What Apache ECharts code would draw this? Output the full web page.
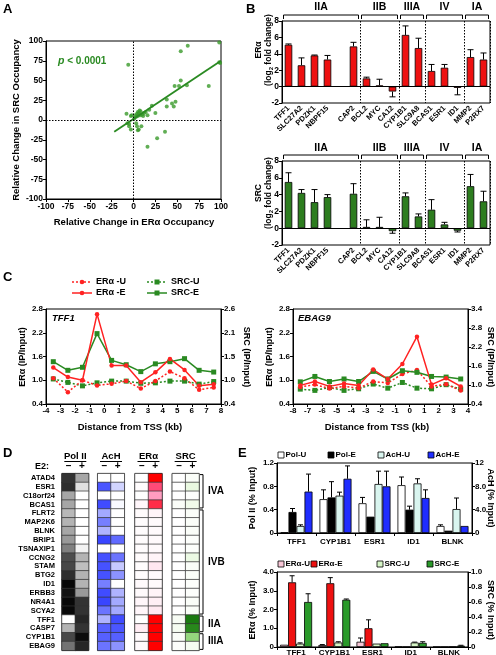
<!DOCTYPE html>
<html><head><meta charset="utf-8">
<script src="https://cdn.jsdelivr.net/npm/echarts@6/dist/echarts.min.js"></script>
<style>html,body{margin:0;padding:0;background:#fff}#c{width:496px;height:655px}</style>
</head><body><div id="c"></div>
<script>
// ================= DATA =================
// Panel A: relative change in ERα (x) vs SRC (y) occupancy
const aX = [-6,54,62,98,98,99,54,47,52,61,86,38,38,44,46,48,21,18,25,16,11,2,4,5,6,7,8,5,3,8,10,12,6,-8,-3,-2,-5,-5,-3,-7,3,4,5,6,9,36,27,16,14,1];
const aY = [70,87,94,98,73,72,50,43,43,44,43,26,17,21,17,23,18,13,9,6,5,6,8,10,9,12,11,5,4,6,7,9,7,8,5,6,-5,-8,-12,-4,-4,-8,-13,-12,-8,-15,-23,-34,10,2];
const aFitX = [-22, 100];
const aFitY = [-15, 75];
const aTicks = [-100, 100, 25];

// Panel B: log2 fold change
const bGenes = ['TFF1','SLC27A2','PDZK1','NBPF15','CAP2','BCL2','MYC','CA12','CYP1B1','SLC9A8','BCAS1','ESR1','ID1','MMP2','P2RX7'];
const bEr     = [5.1,2.6,3.8,3.3,4.9,1.0,0.15,-0.6,6.3,4.7,1.9,2.3,-0.15,3.6,3.3];
const bErSem  = [0.1,0.9,0.05,0.5,0.5,0.15,0.75,0.65,1.1,1.2,0.8,0.4,0.85,0.9,0.8];
const bSrc    = [5.5,4.2,3.1,3.7,4.1,0.15,0.15,-0.35,3.8,1.4,2.2,0.45,-0.3,5.0,3.2];
const bSrcSem = [1.1,0.4,1.5,0.3,1.2,0.85,1.15,0.25,0.4,0.3,1.2,0.25,0.15,1.4,1.2];
const bGroups = ['IIA','IIB','IIIA','IV','IA'];
const bGroupSize = [5,3,2,3,2];

// Panel C: ChIP scanning (IP/Input)
const cTffX    = [-3.5,-2.5,-1.5,-0.5,0.5,1.5,2.5,3.5,4.5,5.5,6.5,7.5];
const cTffErU  = [1.05,0.70,1.00,0.87,0.91,0.98,0.79,0.98,1.22,1.05,0.76,0.82];
const cTffErE  = [1.32,1.08,1.00,2.67,1.37,1.37,0.95,1.20,1.54,1.26,0.86,0.90];
const cTffSrcU = [0.98,0.90,0.82,0.89,0.93,0.93,0.88,0.89,0.93,0.93,0.86,0.92];
const cTffSrcE = [1.38,1.18,1.25,2.03,1.41,1.31,1.15,1.33,1.38,1.45,1.18,1.14];
const cEbX     = [-7.5,-6.5,-5.5,-4.5,-3.5,-2.5,-1.5,-0.5,0.5,1.5,2.5,3.5];
const cEbErU   = [0.83,0.89,0.79,0.845,0.80,0.97,0.93,1.16,1.26,0.845,0.90,0.74];
const cEbErE   = [0.87,0.97,0.845,0.92,0.87,1.27,1.03,1.41,2.10,0.89,1.05,0.845];
const cEbSrcU  = [0.87,0.83,0.92,0.83,0.88,1.03,0.90,1.08,0.90,0.88,1.01,0.87];
const cEbSrcE  = [1.10,1.27,1.11,1.19,1.11,1.43,1.19,1.45,1.40,1.27,1.25,1.19];
const cLeftTicks  = [0.4,1.0,1.6,2.2,2.8];
const cTffRight   = [0.4,0.95,1.5,2.05,2.6];
const cEbRight    = [0.4,1.0,1.6,2.2,2.8,3.4];

// Panel D: heat map intensities (0 = white, 1 = full colour)
const dGenes = ['ATAD4','ESR1','C18orf24','BCAS1','FLRT2','MAP2K6','BLNK','BRIP1','TSNAXIP1','CCNG2','STAM','BTG2','ID1','ERBB3','NR4A1','SCYA2','TFF1','CASP7','CYP1B1','EBAG9'];
const dPolU = [0.8,0.82,0.35,0.35,0.28,0.3,0.35,0.4,0.5,0.7,0.72,0.82,0.97,0.93,0.97,0.97,0,0.3,0.72,0.55];
const dPolE = [0.35,0.12,0,0,0,0,0,0,0.05,0.3,0.25,0.3,0.3,0.4,0.8,0.8,0.85,0.8,0.95,0.85];
const dAchU = [0,0.8,0,0.85,0.4,0.6,0.35,0.88,0,0.82,0.82,0.82,0.6,0.85,0.88,0.65,0.35,0.75,0.75,0.65];
const dAchE = [0,0.2,0,0.03,0,0,0,0.7,0,0.65,0.25,0.5,0,0.35,0.4,0.4,0.85,0.8,0.75,0.5];
const dErU  = [0,0.03,0,0.08,0.04,0.03,0.03,0.03,0.03,0.04,0.03,0.03,0.05,0.05,0.08,0.08,0,0.18,0.05,0.05];
const dErE  = [1.0,0.75,0.5,0.85,0.1,0.05,0.05,0.05,0.05,0.1,0.22,0.05,0.05,0.1,0.15,0.2,1.0,1.0,1.0,1.0];
const dSrcU = [0,0,0,0.05,0,0,0,0,0,0,0,0,0,0,0,0,0.08,0.1,0.05,0.03];
const dSrcE = [0.05,0.22,0.02,0.15,0.05,0.05,0.05,0.03,0.03,0.2,0.05,0.05,0.03,0.03,0.05,0.05,1.0,0.95,0.6,0.1];
const dE2 = ['–','+'];
const dClasses = [['IVA',0,3],['IVB',4,15],['IIA',16,17],['IIIA',18,19]];

// Panel E: ChIP (% input)
const eGenes = ['TFF1','CYP1B1','ESR1','ID1','BLNK'];
const ePolU = [0.01,0.58,0.51,0.82,0.12], ePolUSem = [0,0.16,0.10,0.14,0.02];
const ePolE = [0.36,0.61,0.28,0.40,0.04], ePolESem = [0.06,0.27,0,0.06,0];
const eAchU = [1.2,6.4,8.4,8.5,4.1],      eAchUSem = [0.2,0.6,2.2,0.8,1.9];
const eAchE = [7.1,9.3,8.0,6.0,1.2],      eAchESem = [3.0,2.2,2.6,1.4,0];
const eErU  = [0.12,0.10,0.28,0.02,0.01], eErUSem  = [0,0.03,0.2,0,0];
const eErE  = [3.45,3.4,1.0,0.01,0.01],   eErESem  = [0.35,0.3,0.45,0,0];
const eSrcU = [0.045,0.06,0.045,0.06,0.005], eSrcUSem = [0.01,0.01,0,0.005,0];
const eSrcE = [0.6,0.63,0.05,0.055,0.018],  eSrcESem = [0.11,0.01,0,0.015,0.005];

// ================= LAYOUT / STYLE =================
const F = '"Liberation Sans", Arial, sans-serif';
const RED = '#ee1111', GREEN_B = '#2d7d1f', GREEN_L = '#2a8a22';
const GA  = {left:46, top:41, width:175, height:158};
const GB1 = {left:282, top:21, width:208, height:82};
const GB2 = {left:282, top:161, width:208, height:84};
const GC1 = {left:46, top:309, width:175, height:95};
const GC2 = {left:293, top:309, width:175, height:95};
const GDtop = 473.6, GDh = 176.8;
const GD  = [{left:62,width:26.6},{left:97.7,width:26.6},{left:135,width:27},{left:172.3,width:26.7}];
const GE1 = {left:277, top:463, width:195, height:70};
const GE2 = {left:277, top:572, width:191, height:75};

const chart = echarts.init(document.getElementById('c'), null, {renderer:'canvas', width:496, height:655});

function grid(g, border) {
  return {left:g.left, top:g.top, width:g.width, height:g.height, show:!!border,
    borderColor:'#000', borderWidth:1, backgroundColor:'transparent', containLabel:false, outerBoundsMode:'none'};
}
function lbl(extra) { return Object.assign({color:'#000', fontSize:8, fontWeight:'bold', fontFamily:F, margin:3}, extra||{}); }
function vAxis(gi, o) {
  return Object.assign({type:'value', gridIndex:gi, scale:false,
    axisLine:{show:true, onZero:false, lineStyle:{color:'#000', width:1}},
    axisTick:{show:true, length:3, lineStyle:{color:'#000'}},
    splitLine:{show:false}, axisLabel:lbl()}, o);
}
const dec1 = v => v === 0 ? '0' : (v + 1e-9).toFixed(1);

// B slot layout: IIA has an extra empty slot
const bCats = [...bGenes.slice(0,4), ' ', ...bGenes.slice(4)];
const bBounds = []; { let s = 0; bGroupSize.forEach((n,i)=>{ s += n + (i===0?1:0); bBounds.push(s); }); }
const bSlots = bCats.length;

const grids = [
  grid(GA,true), grid(GB1,true), grid(GB2,true), grid(GC1,true), grid(GC2,true),
  ...GD.map(g=>grid({left:g.left, top:GDtop, width:g.width, height:GDh}, true)),
  grid(GE1,true), grid(GE2,true)
];

const bXAxis = gi => ({type:'category', gridIndex:gi, data:bCats, boundaryGap:true,
  axisLine:{show:false}, axisTick:{show:false},
  axisLabel:lbl({rotate:45, interval:0, fontSize:7.5, margin:4}),
  splitLine:{show:true, interval:(idx)=>bBounds.slice(0,-1).includes(idx), lineStyle:{color:'#000', type:[1.5,1.5], width:1}}});

const eXAxis = gi => ({type:'category', gridIndex:gi, data:eGenes,
  axisLine:{show:true,lineStyle:{color:'#000'}}, axisTick:{show:true,length:3,lineStyle:{color:'#000'}},
  axisLabel:lbl({fontSize:8, margin:gi===10?2:5, interval:0})});

const xAxes = [
  vAxis(0, {min:aTicks[0], max:aTicks[1], interval:aTicks[2], axisLabel:lbl({fontSize:8.5})}),
  bXAxis(1), bXAxis(2),
  vAxis(3, {min:-4, max:8, interval:1}),
  vAxis(4, {min:-8, max:4, interval:1}),
  ...GD.map((g,i)=>({type:'category', gridIndex:5+i, data:dE2, position:'top',
    axisLine:{show:false}, axisTick:{show:false}, axisLabel:lbl({fontSize:10, margin:2})})),
  eXAxis(9), eXAxis(10)
];

const yAxes = [
  vAxis(0, {min:aTicks[0], max:aTicks[1], interval:aTicks[2], axisLabel:lbl({fontSize:8.5})}),
  vAxis(1, {min:-2, max:8, interval:2, axisLabel:lbl({fontSize:8.5})}),
  vAxis(2, {min:-2, max:8, interval:2, axisLabel:lbl({fontSize:8.5})}),
  vAxis(3, {min:0.4, max:2.8, axisLabel:lbl({customValues:cLeftTicks, formatter:dec1}), axisTick:{show:true,length:3,customValues:cLeftTicks,lineStyle:{color:'#000'}}}),
  vAxis(3, {min:0.4, max:2.6, position:'right', axisLabel:lbl({customValues:cTffRight, formatter:dec1}), axisTick:{show:true,length:3,customValues:cTffRight,lineStyle:{color:'#000'}}}),
  vAxis(4, {min:0.4, max:2.8, axisLabel:lbl({customValues:cLeftTicks, formatter:dec1}), axisTick:{show:true,length:3,customValues:cLeftTicks,lineStyle:{color:'#000'}}}),
  vAxis(4, {min:0.4, max:3.4, position:'right', axisLabel:lbl({customValues:cEbRight, formatter:dec1}), axisTick:{show:true,length:3,customValues:cEbRight,lineStyle:{color:'#000'}}}),
  ...GD.map((g,i)=>({type:'category', gridIndex:5+i, data:dGenes, inverse:true,
    axisLine:{show:false}, axisTick:{show:false}, axisLabel:lbl({show:i===0, fontSize:7.5, margin:7, interval:0})})),
  vAxis(9, {min:0, max:1.2, interval:0.4, axisLabel:lbl({formatter:dec1})}),
  vAxis(9, {min:0, max:12, interval:4, position:'right', axisLabel:lbl({formatter:v=>v===12?'12':dec1(v)})}),
  vAxis(10, {min:0, max:4, interval:1, axisLabel:lbl({formatter:dec1})}),
  vAxis(10, {min:0, max:1, interval:0.2, position:'right', axisLabel:lbl({formatter:dec1})})
];

function errSeries(xi, yi, cats, vals, sems, offset, cap) {
  return {type:'custom', xAxisIndex:xi, yAxisIndex:yi, z:1, silent:true,
    data: cats.map((c,i)=>[i, vals[i], sems[i]]),
    renderItem:(params, api)=>{
      const v = api.value(1), s = api.value(2);
      if (!s) return null;
      const end = v >= 0 ? v + s : v - s;
      const p0 = api.coord([api.value(0), v]);
      const p1 = api.coord([api.value(0), end]);
      const x = p0[0] + offset;
      return {type:'group', children:[
        {type:'line', shape:{x1:x,y1:p0[1],x2:x,y2:p1[1]}, style:{stroke:'#000', lineWidth:1}},
        {type:'line', shape:{x1:x-cap,y1:p1[1],x2:x+cap,y2:p1[1]}, style:{stroke:'#000', lineWidth:1}}
      ]};
    }};
}
function bErrSeries(xi, yi, vals, sems) {
  return {type:'custom', xAxisIndex:xi, yAxisIndex:yi, z:1, silent:true,
    data: bGenes.map((g,i)=>[g, vals[i], sems[i]]),
    renderItem:(params, api)=>{
      const v = api.value(1), s = api.value(2);
      const end = v >= 0 ? v + s : v - s;
      const p0 = api.coord([api.value(0), v]);
      const p1 = api.coord([api.value(0), end]);
      const x = p0[0];
      return {type:'group', children:[
        {type:'line', shape:{x1:x,y1:p0[1],x2:x,y2:p1[1]}, style:{stroke:'#000', lineWidth:1}},
        {type:'line', shape:{x1:x-3,y1:p1[1],x2:x+3,y2:p1[1]}, style:{stroke:'#000', lineWidth:1}}
      ]};
    }};
}

const series = [];
// A
series.push({type:'scatter', xAxisIndex:0, yAxisIndex:0, symbolSize:4, itemStyle:{color:'#3a9a2a'},
  data: aX.map((x,i)=>[x, aY[i]]),
  markLine:{silent:true, symbol:'none', label:{show:false}, lineStyle:{color:'#000', type:[1.5,1.5], width:1},
    data:[{xAxis:0},{yAxis:0}]}});
series.push({type:'line', xAxisIndex:0, yAxisIndex:0, symbol:'none', lineStyle:{color:GREEN_L, width:1.8},
  data: aFitX.map((x,i)=>[x, aFitY[i]])});

// B
function bBars(xi, yi, vals, color) {
  return {type:'bar', xAxisIndex:xi, yAxisIndex:yi, barWidth:7.5, z:2,
    itemStyle:{color, borderColor:'#000', borderWidth:0.8},
    data: bGenes.map((g,i)=>[g, vals[i]]),
    markLine:{silent:true, symbol:'none', label:{show:false}, lineStyle:{color:'#000', type:'solid', width:1}, data:[{yAxis:0}]}};
}
series.push(bBars(1,1,bEr,RED), bErrSeries(1,1,bEr,bErSem));
series.push(bBars(2,2,bSrc,GREEN_B), bErrSeries(2,2,bSrc,bSrcSem));

// C
function cLine(xi, yi, xs, ys, color, dotted, sym) {
  return {type:'line', xAxisIndex:xi, yAxisIndex:yi, symbol:sym, symbolSize: sym==='rect'?5:4.5,
    itemStyle:{color}, lineStyle:{color, width:1.5, type: dotted ? [2,2] : 'solid'},
    data: xs.map((x,i)=>[x, ys[i]])};
}
series.push(cLine(3,4,cTffX,cTffSrcU,GREEN_L,true,'rect'), cLine(3,3,cTffX,cTffErU,'#ff2222',true,'circle'),
            cLine(3,4,cTffX,cTffSrcE,GREEN_L,false,'rect'), cLine(3,3,cTffX,cTffErE,'#ff2222',false,'circle'));
series.push(cLine(4,6,cEbX,cEbSrcU,GREEN_L,true,'rect'), cLine(4,5,cEbX,cEbErU,'#ff2222',true,'circle'),
            cLine(4,6,cEbX,cEbSrcE,GREEN_L,false,'rect'), cLine(4,5,cEbX,cEbErE,'#ff2222',false,'circle'));

// D heat maps
const dSets = [[dPolU,dPolE],[dAchU,dAchE],[dErU,dErE],[dSrcU,dSrcE]];
const dColors = [
  ['#ffffff','#000000'],
  ['#ffffff','#8c93ff','#1f2dff'],
  ['#ffffff','#ffe4ee','#ff9cc0','#ff4a78','#ff0000'],
  ['#ffffff','#e6f7dc','#b6e6a0','#60c048','#1a7a10']
];
const visualMaps = [];
dSets.forEach((pair, k)=>{
  const data = [];
  pair.forEach((arr, xi)=>arr.forEach((v, yi)=>data.push([xi, yi, v])));
  visualMaps.push({type:'continuous', show:false, min:0, max:1, dimension:2, seriesIndex:series.length, inRange:{color:dColors[k]}});
  series.push({type:'heatmap', xAxisIndex:5+k, yAxisIndex:7+k, data, silent:true,
    itemStyle:{borderColor:'#333', borderWidth:0.7}, emphasis:{disabled:true}});
});

// E
const EBW = 8;
function eBar(yi, vals, color) {
  return {type:'bar', xAxisIndex: yi<13 ? 9 : 10, yAxisIndex:yi, barWidth:EBW, barGap:'0%', z:2,
    itemStyle:{color, borderColor:'#000', borderWidth:0.8}, data: vals.slice()};
}
series.push(eBar(11,ePolU,'#ffffff'), eBar(11,ePolE,'#000000'), eBar(12,eAchU,'#d9f5ef'), eBar(12,eAchE,'#1f2dff'));
series.push(errSeries(9,11,eGenes,ePolU,ePolUSem,-1.5*EBW,2.5), errSeries(9,11,eGenes,ePolE,ePolESem,-0.5*EBW,2.5),
            errSeries(9,12,eGenes,eAchU,eAchUSem,0.5*EBW,2.5), errSeries(9,12,eGenes,eAchE,eAchESem,1.5*EBW,2.5));
series.push(eBar(13,eErU,'#f7c6d6'), eBar(13,eErE,RED), eBar(14,eSrcU,'#d6f5c6'), eBar(14,eSrcE,'#2a9a2a'));
series.push(errSeries(10,13,eGenes,eErU,eErUSem,-1.5*EBW,2.5), errSeries(10,13,eGenes,eErE,eErESem,-0.5*EBW,2.5),
            errSeries(10,14,eGenes,eSrcU,eSrcUSem,0.5*EBW,2.5), errSeries(10,14,eGenes,eSrcE,eSrcESem,1.5*EBW,2.5));

// ================= ANNOTATIONS =================
const G = [];
function T(x, y, text, o) {
  o = o || {};
  const font = `${o.italic?'italic ':''}${o.weight||'bold'} ${o.size||9}px ${F}`;
  G.push({type:'text', x, y, rotation:o.rot||0, silent:true, z:100,
    style:{text, x:0, y:0, fill:o.color||'#000', font, align:o.align||'center', verticalAlign:o.va||'middle',
      textAlign:o.align||'center', textVerticalAlign:o.va||'middle', rich:o.rich}});
}
function L(x1,y1,x2,y2,o) {
  o = o || {};
  G.push({type:'line', silent:true, z:100, shape:{x1,y1,x2,y2},
    style:{stroke:o.color||'#000', lineWidth:o.w||1, lineDash:o.dash||null}});
}
function Rc(x,y,w,h,fill) {
  G.push({type:'rect', silent:true, z:100, shape:{x,y,width:w,height:h}, style:{fill, stroke:'#000', lineWidth:0.8}});
}
function Sym(x,y,kind,color) {
  if (kind==='rect') G.push({type:'rect', silent:true, z:101, shape:{x:x-2.5,y:y-2.5,width:5,height:5}, style:{fill:color}});
  else G.push({type:'circle', silent:true, z:101, shape:{cx:x,cy:y,r:2.3}, style:{fill:color}});
}
const P = Math.PI/2;

// panel letters
T(3,9,'A',{size:13,align:'left'}); T(246,9,'B',{size:13,align:'left'});
T(3,277,'C',{size:13,align:'left'}); T(3,453,'D',{size:13,align:'left'}); T(238,453,'E',{size:13,align:'left'});

// A
T(16,120,'Relative Change in SRC Occupancy',{rot:P,size:9.5});
T(134,222,'Relative Change in ERα Occupancy',{size:9.5});
T(58,61,'{i|p}{n| < 0.0001}',{align:'left', color:GREEN_L, size:10,
  rich:{i:{fontStyle:'italic', fontWeight:'bold', fontSize:10.5, fontFamily:F, fill:GREEN_L, color:GREEN_L},
        n:{fontWeight:'bold', fontSize:10, fontFamily:F, fill:GREEN_L, color:GREEN_L}}});

// B: group labels & brackets
[[GB1, 7, 15],[GB2, 148, 155]].forEach(([g, ty, by])=>{
  const sw = g.width / bSlots;
  let s0 = 0;
  bGroups.forEach((name, i)=>{
    const s1 = bBounds[i];
    const x1 = g.left + s0*sw + 1.5, x2 = g.left + s1*sw - 1.5;
    L(x1,by,x2,by); L(x1,by,x1,by+4); L(x2,by,x2,by+4);
    T((x1+x2)/2, ty, name, {size:10.5});
    s0 = s1;
  });
});
const logRich = {a:{fontWeight:'bold', fontSize:8.5, fontFamily:F}, s:{fontWeight:'bold', fontSize:6, fontFamily:F, padding:[5,0,0,0]}};
T(259,50,'ERα',{rot:P,size:8.5}); T(268.5,50,'{a|(log}{s|2}{a| fold change)}',{rot:P,size:8.5,rich:logRich});
T(259,193,'SRC',{rot:P,size:8.5}); T(268.5,193,'{a|(log}{s|2}{a| fold change)}',{rot:P,size:8.5,rich:logRich});

// C legend
function legLine(x, y, color, dotted, kind, label) {
  L(x, y, x+20, y, {color, w:1.5, dash: dotted?[2,2]:null}); Sym(x+10, y, kind, color);
  T(x+24, y, label, {align:'left', size:9});
}
legLine(72,282,'#ff2222',true,'circle','ERα -U'); legLine(147,282,GREEN_L,true,'rect','SRC-U');
legLine(72,293,'#ff2222',false,'circle','ERα -E'); legLine(147,293,GREEN_L,false,'rect','SRC-E');
T(52,318,'TFF1',{italic:true,align:'left',size:9.5}); T(298,318,'EBAG9',{italic:true,align:'left',size:9.5});
T(23,357,'ERα (IP/Input)',{rot:P,size:9}); T(246,357,'SRC (IP/Input)',{rot:-P,size:9});
T(270,357,'ERα (IP/Input)',{rot:P,size:9}); T(490,357,'SRC (IP/Input)',{rot:-P,size:9});
T(130,427,'Distance from TSS (kb)',{size:9.5}); T(377,427,'Distance from TSS (kb)',{size:9.5});

// D headers & brackets
[['Pol II',0],['AcH',1],['ERα',2],['SRC',3]].forEach(([t,k])=>{
  const cx = GD[k].left + GD[k].width/2;
  T(cx,456,t,{size:9.5});
  L(cx-11,461.5,cx+11,461.5,{w:1});
});
T(35,467,'E2:',{align:'left',size:9});
const rowH = GDh / dGenes.length;
dClasses.forEach(([name, r0, r1])=>{
  const y1 = GDtop + r0*rowH + 1, y2 = GDtop + (r1+1)*rowH - 1;
  L(203,y1,203,y2); L(200,y1,203,y1); L(200,y2,203,y2);
  T(208,(y1+y2)/2,name,{align:'left',size:10});
});

// E legends & titles
function legBox(x, y, fill, label) { Rc(x, y-3, 6, 6, fill); T(x+7.5, y, label, {align:'left', size:8}); }
legBox(278,455,'#ffffff','Pol-U'); legBox(328,455,'#000000','Pol-E'); legBox(378,455,'#d9f5ef','AcH-U'); legBox(428,455,'#1f2dff','AcH-E');
legBox(278,564,'#f7c6d6','ERα-U'); legBox(311,564,RED,'ERα-E'); legBox(377,564,'#d6f5c6','SRC-U'); legBox(427,564,'#2a9a2a','SRC-E');
T(253,498,'Pol II (% Input)',{rot:P,size:9}); T(490,498,'AcH (% Input)',{rot:-P,size:9});
T(253,610,'ERα (% Input)',{rot:P,size:9}); T(490,610,'SRC (% Input)',{rot:-P,size:9});

chart.setOption({
  animation:false, backgroundColor:'#fff',
  grid:grids, xAxis:xAxes, yAxis:yAxes, visualMap:visualMaps, series, graphic:G
});
</script></body></html>
